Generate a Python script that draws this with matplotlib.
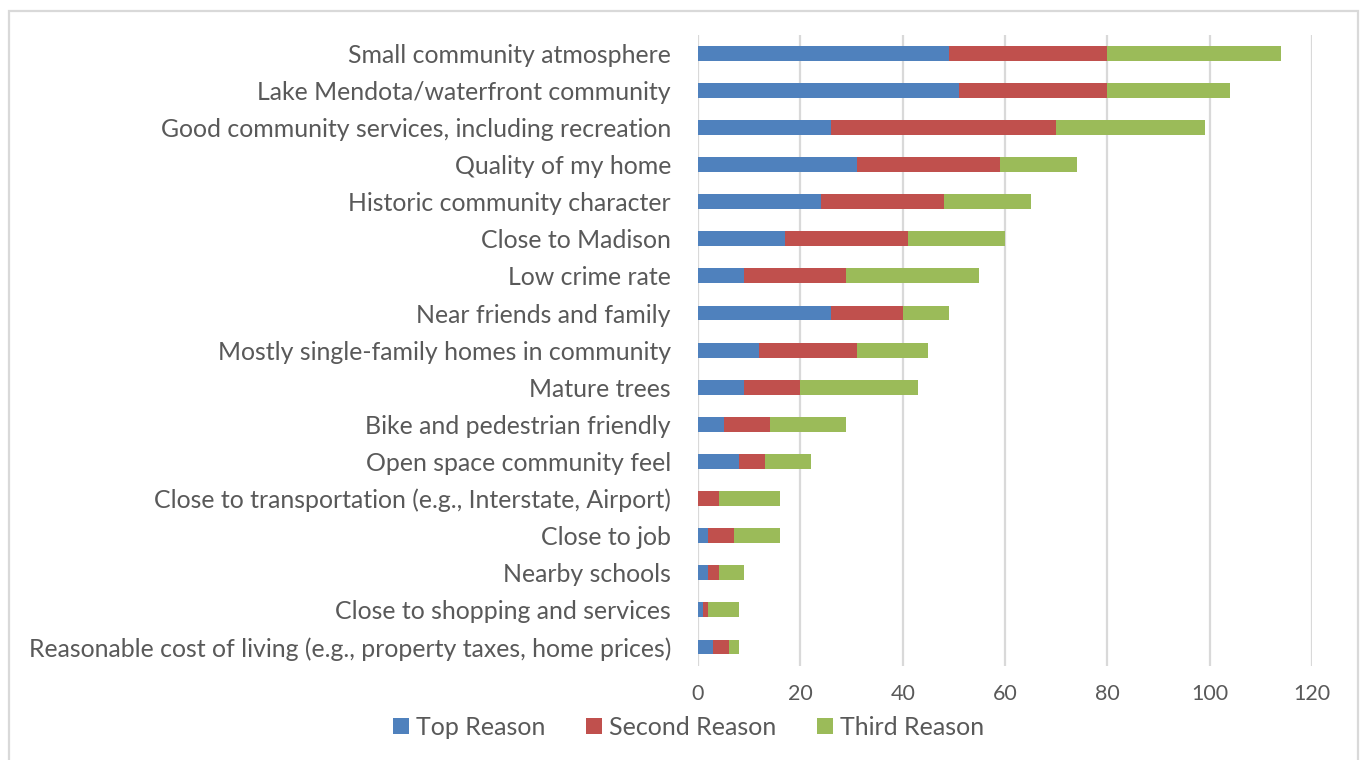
import matplotlib
matplotlib.use('Agg')
import matplotlib.pyplot as plt
import numpy as np

# Categories, top of chart first.
categories = [
    'Small community atmosphere',
    'Lake Mendota/waterfront community',
    'Good community services, including recreation',
    'Quality of my home',
    'Historic community character',
    'Close to Madison',
    'Low crime rate',
    'Near friends and family',
    'Mostly single-family homes in community',
    'Mature trees',
    'Bike and pedestrian friendly',
    'Open space community feel',
    'Close to transportation (e.g., Interstate, Airport)',
    'Close to job',
    'Nearby schools',
    'Close to shopping and services',
    'Reasonable cost of living (e.g., property taxes, home prices)',
]
top_reason = [49, 51, 26, 31, 24, 17, 9, 26, 12, 9, 5, 8, 0, 2, 2, 1, 3]
second_reason = [31, 29, 44, 28, 24, 24, 20, 14, 19, 11, 9, 5, 4, 5, 2, 1, 3]
third_reason = [34, 24, 29, 15, 17, 19, 26, 9, 14, 23, 15, 9, 12, 9, 5, 6, 2]
x_ticks = [0, 20, 40, 60, 80, 100, 120]

plt.rcParams['font.family'] = ['Lato', 'DejaVu Sans']
text_color = '#595959'
grid_color = '#D9D9D9'

fig = plt.figure(figsize=(13.65, 7.6), dpi=100)
ax = fig.add_axes([0.5114, 0.1243, 0.4498, 0.83])

y = np.arange(len(categories))
top = np.array(top_reason)
second = np.array(second_reason)
third = np.array(third_reason)

h = 0.4
ax.barh(y, top, height=h, color='#4F81BD', label='Top Reason', zorder=3)
ax.barh(y, second, left=top, height=h, color='#C0504D', label='Second Reason', zorder=3)
ax.barh(y, third, left=top + second, height=h, color='#9BBB59', label='Third Reason', zorder=3)

ax.set_yticks(y)
ax.set_yticklabels(categories)
ax.set_ylim(len(categories) - 0.5, -0.5)
ax.set_xlim(0, 120)
ax.set_xticks(x_ticks)

ax.tick_params(axis='y', length=0, pad=19.5, labelsize=17.9, labelcolor=text_color)
ax.tick_params(axis='x', length=0, pad=13.5, labelsize=15.5, labelcolor=text_color)

ax.grid(axis='x', color=grid_color, linewidth=1.6, zorder=0)
for s in ax.spines.values():
    s.set_visible(False)

leg = fig.legend(loc='center', bbox_to_anchor=(0.5044, 0.043), ncol=3, frameon=False,
                 fontsize=18, handlelength=0.65, handleheight=0.65, handletextpad=0.3,
                 columnspacing=1.6, labelcolor=text_color)

# Light gray chart border.
border = plt.Rectangle((0.0066, -0.01), 0.9883, 0.996, transform=fig.transFigure,
                       fill=False, edgecolor=grid_color, linewidth=1.6)
fig.add_artist(border)

fig.savefig('out.png', dpi=100, facecolor='white')
